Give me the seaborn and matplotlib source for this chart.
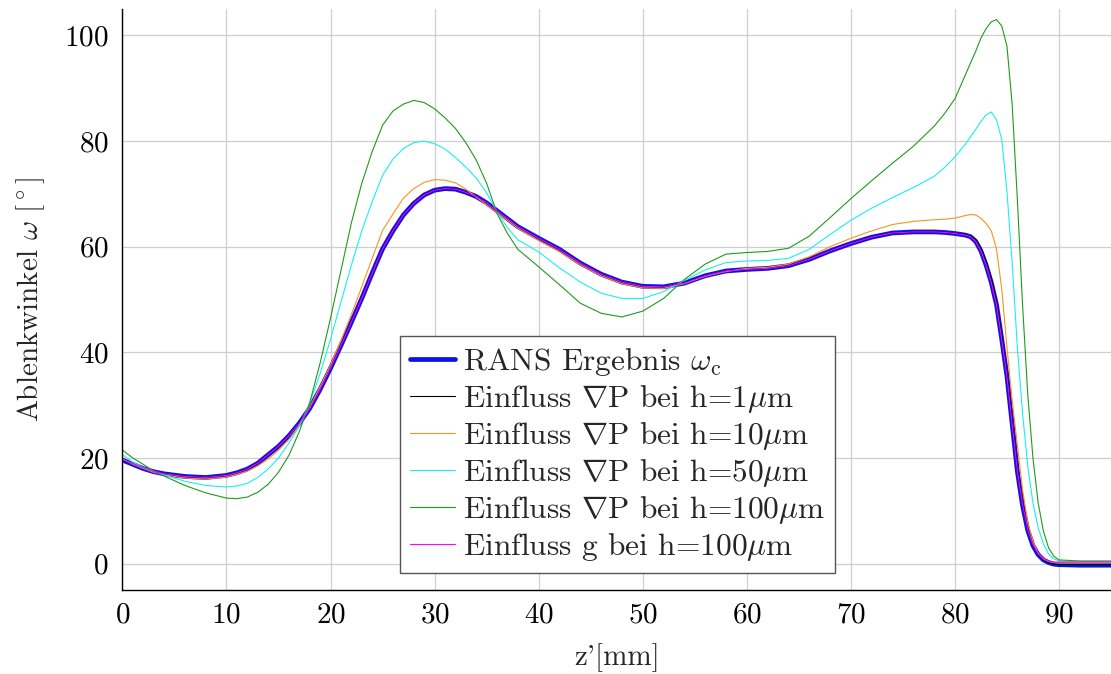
import numpy as np
import pandas as pd
import matplotlib
matplotlib.use("Agg")
import matplotlib.pyplot as plt
import seaborn as sns

# Axial position z' [mm] shared by all curves
z_mm = [0, 1, 2, 3, 4, 6, 8, 10, 11, 12, 13, 14, 15, 16, 17, 18, 19, 20, 21, 22,
        23, 24, 25, 26, 27, 28, 29, 30, 31, 32, 33, 34, 35, 36, 37, 38, 40, 42, 44,
        46, 48, 50, 52, 54, 56, 58, 60, 62, 64, 66, 68, 70, 72, 74, 76, 78, 79, 80,
        81, 81.5, 82, 82.5, 83, 83.5, 84, 84.5, 85, 85.5, 86, 86.5, 87, 87.5, 88,
        88.5, 89, 89.5, 90, 92, 95]

# Deflection angle omega [deg]
omega_rans = [19.6, 18.8, 18.0, 17.4, 17.0, 16.5, 16.3, 16.7, 17.2, 17.9, 19.0, 20.6,
              22.2, 24.2, 26.6, 29.4, 33.0, 37.0, 41.3, 45.7, 50.2, 55.0, 59.6, 63.0,
              66.0, 68.2, 69.8, 70.7, 71.0, 70.9, 70.3, 69.5, 68.3, 66.8, 65.3, 63.8,
              61.6, 59.5, 56.9, 54.8, 53.3, 52.5, 52.4, 53.1, 54.5, 55.4, 55.7, 55.9,
              56.4, 57.6, 59.2, 60.6, 61.8, 62.6, 62.8, 62.8, 62.7, 62.5,
              62.2, 61.9, 61.0, 59.2, 56.5, 53.2, 49.0, 42.5, 35.5, 26.5, 17.5, 11.0,
              6.3, 3.4, 1.7, 0.7, 0.2, -0.1, -0.2, -0.3, -0.3]

omega_h1 = [19.6, 18.8, 18.0, 17.4, 17.0, 16.5, 16.3, 16.7, 17.2, 17.9, 19.0, 20.6,
            22.2, 24.2, 26.6, 29.4, 33.0, 37.0, 41.3, 45.7, 50.2, 55.0, 59.6, 63.0,
            66.0, 68.2, 69.8, 70.7, 71.0, 70.9, 70.3, 69.5, 68.3, 66.8, 65.3, 63.8,
            61.6, 59.5, 56.9, 54.8, 53.3, 52.5, 52.4, 53.1, 54.5, 55.4, 55.7, 55.9,
            56.4, 57.6, 59.2, 60.6, 61.8, 62.6, 62.8, 62.8, 62.7, 62.5,
            62.3, 62.0, 61.4, 59.8, 57.3, 54.0, 49.8, 43.3, 36.2, 27.2, 18.0, 11.4,
            6.6, 3.6, 1.8, 0.8, 0.2, -0.1, -0.2, -0.2, -0.2]

omega_h10 = [19.8, 18.8, 18.0, 17.3, 16.8, 16.2, 16.0, 16.4, 16.9, 17.5, 18.5, 19.8,
             21.5, 23.5, 26.2, 29.6, 33.5, 37.6, 42.2, 47.2, 52.4, 57.8, 63.1, 66.2,
             69.2, 71.0, 72.2, 72.7, 72.6, 72.1, 70.9, 69.4, 67.9, 66.4, 65.0, 63.5,
             61.2, 59.1, 56.6, 54.5, 53.0, 52.2, 52.1, 53.0, 54.4, 55.3, 55.9, 56.1,
             56.7, 58.1, 60.0, 61.6, 63.0, 64.2, 64.8, 65.1, 65.2, 65.4,
             65.9, 66.1, 66.0, 65.4, 64.4, 63.0, 59.5, 52.0, 41.0, 31.0, 22.5, 14.0,
             7.8, 4.2, 2.0, 0.9, 0.4, 0.2, 0.1, 0.1, 0.1]

omega_h50 = [20.6, 19.2, 18.2, 17.5, 16.8, 15.6, 14.8, 14.5, 14.7, 15.2, 16.3, 17.9,
             20.0, 22.8, 26.1, 30.3, 36.0, 42.5, 49.5, 56.5, 63.0, 68.5, 73.5, 76.6,
             78.6, 79.7, 80.0, 79.5, 78.5, 76.9, 75.1, 73.0, 70.2, 66.6, 63.6, 61.3,
             59.0, 56.0, 53.3, 51.2, 50.2, 50.2, 51.5, 53.6, 55.6, 57.0, 57.3, 57.4,
             57.8, 59.5, 62.3, 65.0, 67.3, 69.3, 71.2, 73.3, 75.0, 77.0,
             79.4, 80.8, 82.2, 83.7, 85.0, 85.5, 84.0, 80.3, 70.5, 57.0, 41.0, 28.5,
             18.5, 11.5, 6.8, 3.8, 1.8, 0.9, 0.5, 0.4, 0.4]

omega_h100 = [21.5, 20.0, 18.8, 17.5, 16.6, 14.8, 13.4, 12.4, 12.3, 12.6, 13.5, 15.0,
              17.3, 20.5, 25.0, 30.5, 38.0, 46.5, 55.5, 64.5, 72.0, 78.0, 83.0, 85.7,
              87.0, 87.7, 87.3, 86.1, 84.4, 82.4, 79.7, 76.4, 72.0, 66.3, 62.5, 59.5,
              56.2, 52.8, 49.3, 47.4, 46.7, 47.8, 50.2, 53.8, 56.7, 58.6, 58.9, 59.1,
              59.7, 62.0, 65.5, 69.1, 72.5, 75.8, 79.0, 82.8, 85.2, 88.0,
              92.5, 94.8, 97.0, 99.5, 101.3, 102.6, 103.0, 101.8, 98.0, 87.0, 69.0,
              49.0, 32.0, 20.0, 11.5, 6.2, 3.0, 1.4, 0.7, 0.5, 0.5]

omega_g100 = [19.7, 18.9, 18.1, 17.5, 17.0, 16.5, 16.3, 16.7, 17.2, 17.9, 19.0, 20.6,
              22.2, 24.2, 26.6, 29.4, 33.0, 37.0, 41.3, 45.7, 50.2, 55.0, 59.6, 63.0,
              66.0, 68.2, 69.8, 70.7, 71.0, 70.9, 70.3, 69.5, 68.3, 66.8, 65.3, 63.8,
              61.6, 59.5, 56.9, 54.8, 53.3, 52.5, 52.4, 53.1, 54.5, 55.4, 55.7, 55.9,
              56.4, 57.6, 59.2, 60.6, 61.8, 62.6, 62.8, 62.8, 62.7, 62.5,
              62.2, 61.9, 61.0, 59.2, 56.5, 53.2, 49.0, 42.5, 35.5, 26.5, 17.6, 11.2,
              6.5, 3.6, 1.9, 1.0, 0.5, 0.3, 0.3, 0.3, 0.3]

labels = [r"RANS Ergebnis $\omega_\mathrm{c}$",
          r"Einfluss $\nabla$P bei h=1$\mu$m",
          r"Einfluss $\nabla$P bei h=10$\mu$m",
          r"Einfluss $\nabla$P bei h=50$\mu$m",
          r"Einfluss $\nabla$P bei h=100$\mu$m",
          r"Einfluss g bei h=100$\mu$m"]
series = [omega_rans, omega_h1, omega_h10, omega_h50, omega_h100, omega_g100]
colors = ["#0a14e6", "black", "#f7941d", "#19f0f0", "#1e9b1e", "#ff00ff"]
widths = [3.4, 0.8, 0.8, 0.8, 0.8, 0.8]

df = pd.concat(
    [pd.DataFrame({"z": z_mm, "omega": vals, "case": lab})
     for lab, vals in zip(labels, series)],
    ignore_index=True,
)

sns.set_style("white")
plt.rcParams["font.family"] = ["cmr10"]
plt.rcParams["mathtext.fontset"] = "cm"
plt.rcParams["axes.formatter.use_mathtext"] = True
plt.rcParams["axes.unicode_minus"] = False

fig = plt.figure(figsize=(11.11, 6.74), dpi=100)
ax = fig.add_axes([0.1102, 0.1246, 0.8898, 0.862])

for lab, col, lw in zip(labels, colors, widths):
    sns.lineplot(data=df[df["case"] == lab], x="z", y="omega", ax=ax,
                 color=col, linewidth=lw, label=lab, estimator=None,
                 sort=False)

ax.set_xlim(0, 95)
ax.set_ylim(-5, 105)
ax.set_xticks(np.arange(0, 91, 10))
ax.set_yticks(np.arange(0, 101, 20))

ax.grid(True, color="#cfcfcf", linewidth=0.9)
ax.set_axisbelow(True)
for side in ("top", "right"):
    ax.spines[side].set_visible(False)
for side in ("left", "bottom"):
    ax.spines[side].set_color("black")
    ax.spines[side].set_linewidth(1.0)

ax.tick_params(axis="both", direction="in", length=7, width=1.0,
               color="#8c8c8c", labelsize=21, labelcolor="black")
ax.tick_params(axis="x", pad=9)
ax.tick_params(axis="y", pad=10)

ax.set_xlabel("z'[mm]", fontsize=21, labelpad=10)
ax.set_ylabel(r"Ablenkwinkel $\omega$ [$^\circ$]", fontsize=21, labelpad=12)

leg = ax.legend(loc="lower left", bbox_to_anchor=(0.281, 0.029), fontsize=22.6,
                frameon=True, fancybox=False, framealpha=1.0, edgecolor="#555555",
                handlelength=1.43, handletextpad=0.25, labelspacing=0.16,
                borderpad=0.32, borderaxespad=0.0)
leg.get_frame().set_linewidth(1.0)

fig.savefig("out.png", dpi=100)
